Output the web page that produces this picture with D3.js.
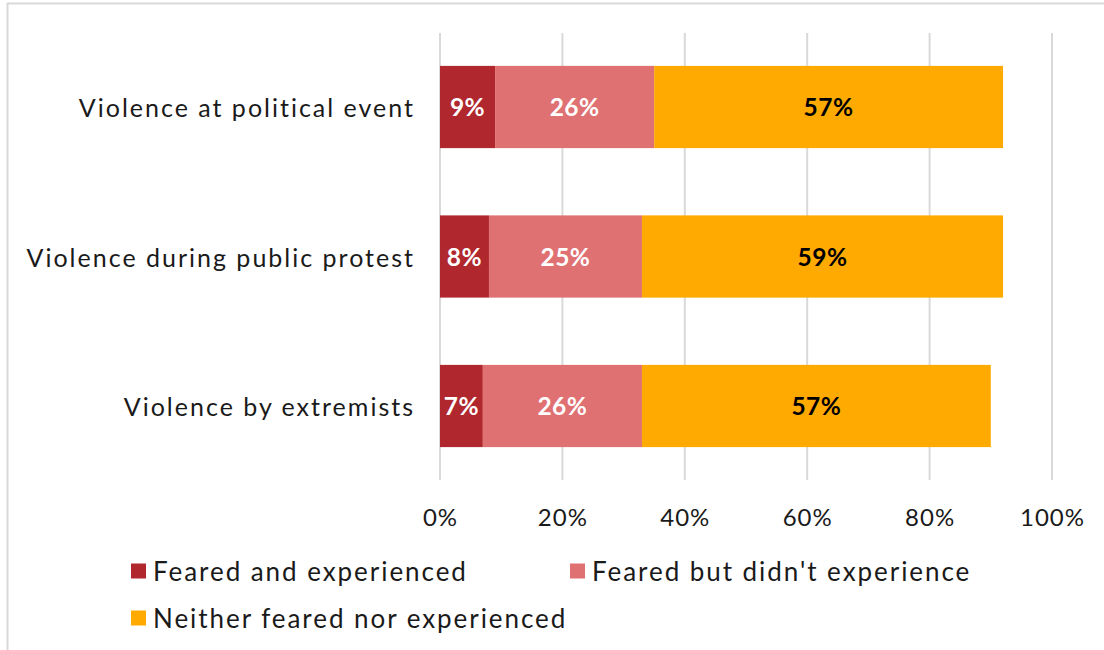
<!DOCTYPE html>
<html>
<head>
<meta charset="utf-8">
<script src="https://cdn.jsdelivr.net/npm/d3@7"></script>
<style>
  html, body { margin: 0; padding: 0; background: #fff; }
  svg { display: block; font-family: "Lato", "Open Sans", sans-serif; }
</style>
</head>
<body>
<svg id="chart" width="1104" height="650"></svg>
<script>
// Survey categories, top to bottom
const categories = [
  "Violence at political event",
  "Violence during public protest",
  "Violence by extremists"
];

// Series (percent of respondents)
const seriesNames = [
  "Feared and experienced",
  "Feared but didn't experience",
  "Neither feared nor experienced"
];
const fearedExperienced = [9, 8, 7];
const fearedNotExperienced = [26, 25, 26];
const neither = [57, 59, 57];

const xTicks = [0, 20, 40, 60, 80, 100];
const colors = ["#B0272E", "#E07173", "#FFAA00"];
const labelColors = ["#ffffff", "#ffffff", "#000000"];

const seriesValues = [fearedExperienced, fearedNotExperienced, neither];
const rows = categories.map((c, i) => {
  const r = { category: c };
  seriesNames.forEach((s, j) => { r[s] = seriesValues[j][i]; });
  return r;
});

const svg = d3.select("#chart");

// outer frame
svg.append("path")
  .attr("d", "M7.5,650 V3.5 H1104")
  .attr("fill", "none")
  .attr("stroke", "#d9d9d9")
  .attr("stroke-width", 2);

const plot = { left: 440, right: 1052, top: 33, bottom: 480 };

const x = d3.scaleLinear().domain([0, 100]).range([plot.left, plot.right]);
const y = d3.scaleBand().domain(categories).range([plot.top, plot.bottom])
  .paddingInner(0.45).paddingOuter(0.22);

// gridlines
svg.append("g")
  .selectAll("line")
  .data(xTicks)
  .join("line")
  .attr("x1", d => x(d)).attr("x2", d => x(d))
  .attr("y1", plot.top).attr("y2", plot.bottom)
  .attr("stroke", "#d9d9d9")
  .attr("stroke-width", 2);

// x axis labels
const xAxis = d3.axisBottom(x).tickValues(xTicks).tickFormat(d => d + "%").tickSize(0).tickPadding(0);
const xg = svg.append("g").attr("transform", `translate(0,${plot.bottom + 38})`).call(xAxis);
xg.select(".domain").remove();
xg.selectAll("text")
  .attr("font-family", "Lato, sans-serif")
  .attr("font-size", 24)
  .attr("letter-spacing", 1)
  .attr("fill", "#1a1a1a")
  .attr("dy", "0.35em")
  .attr("y", 0);

// category axis
const yAxis = d3.axisLeft(y).tickSize(0).tickPadding(25);
const yg = svg.append("g").attr("transform", `translate(${plot.left},0)`).call(yAxis);
yg.select(".domain").remove();
yg.selectAll("text")
  .attr("font-family", "Lato, sans-serif")
  .attr("font-size", 25)
  .attr("letter-spacing", 2.0)
  .attr("fill", "#1a1a1a")
  .attr("dy", "0.4em");

// stacked bars
const stack = d3.stack().keys(seriesNames)(rows);

const layers = svg.append("g")
  .selectAll("g")
  .data(stack)
  .join("g")
  .attr("fill", (d, i) => colors[i]);

layers.selectAll("rect")
  .data(d => d)
  .join("rect")
  .attr("x", d => x(d[0]))
  .attr("width", d => x(d[1]) - x(d[0]))
  .attr("y", d => y(d.data.category))
  .attr("height", y.bandwidth());

// value labels
stack.forEach((layer, i) => {
  svg.append("g")
    .selectAll("text")
    .data(layer)
    .join("text")
    .attr("x", d => (x(d[0]) + x(d[1])) / 2)
    .attr("y", d => y(d.data.category) + y.bandwidth() / 2)
    .attr("dy", "0.38em")
    .attr("text-anchor", "middle")
    .attr("font-size", 24.5)
    .attr("letter-spacing", 0.5)
    .attr("font-weight", "bold")
    .attr("fill", labelColors[i])
    .text(d => (d[1] - d[0]) + "%");
});

// legend
const legendItems = [
  { name: seriesNames[0], color: colors[0], x: 131, y: 571 },
  { name: seriesNames[1], color: colors[1], x: 570, y: 571 },
  { name: seriesNames[2], color: colors[2], x: 131, y: 618 }
];
const lg = svg.append("g")
  .selectAll("g")
  .data(legendItems)
  .join("g")
  .attr("transform", d => `translate(${d.x},${d.y})`);
lg.append("rect")
  .attr("x", 0).attr("y", -7.5)
  .attr("width", 15).attr("height", 15)
  .attr("fill", d => d.color);
lg.append("text")
  .attr("x", 22)
  .attr("dy", "0.38em")
  .attr("font-size", 26)
  .attr("letter-spacing", 1.95)
  .attr("fill", "#1a1a1a")
  .text(d => d.name);
</script>
</body>
</html>
